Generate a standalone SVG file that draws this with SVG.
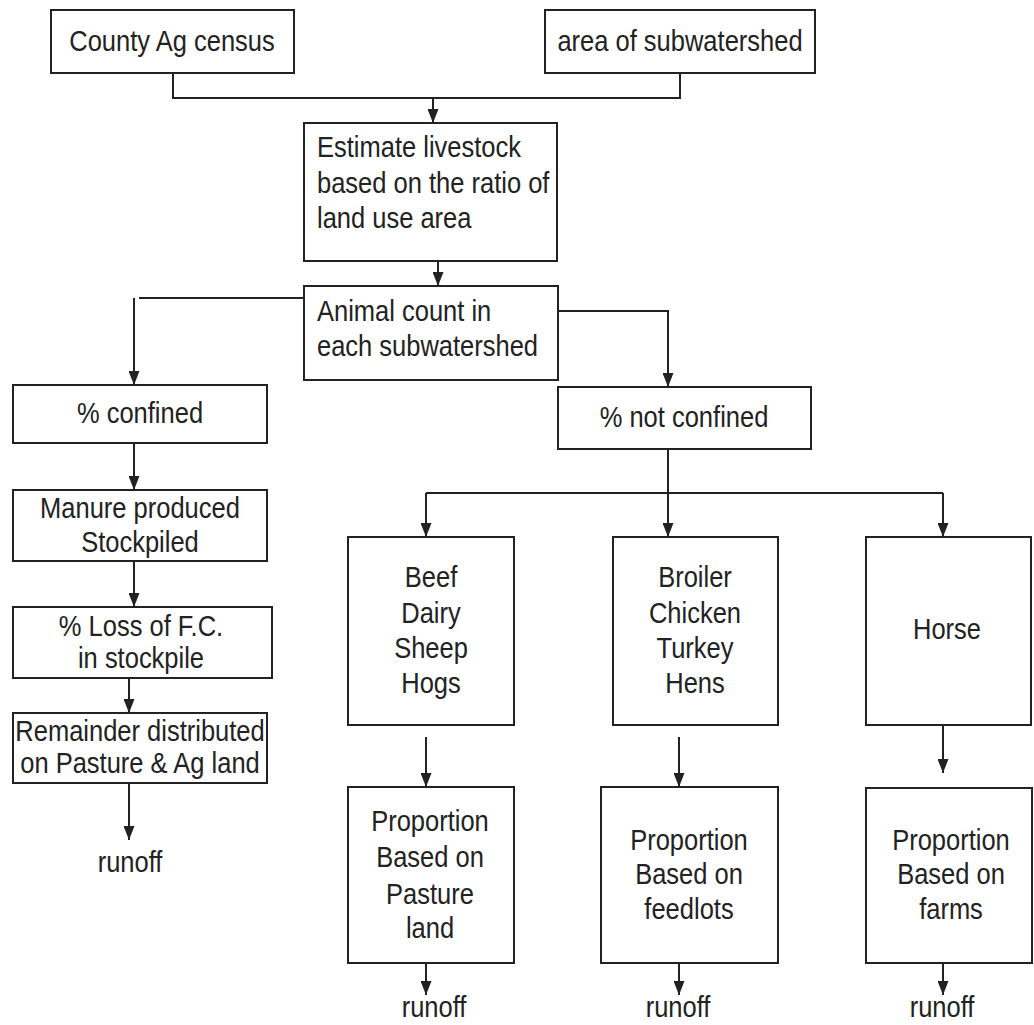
<svg xmlns="http://www.w3.org/2000/svg" width="1034" height="1025" viewBox="0 0 1034 1025">
<style>
.box{fill:#fff;stroke:#222;stroke-width:2}
.ln{fill:none;stroke:#222;stroke-width:2}
.ar{fill:none;stroke:#222;stroke-width:2;marker-end:url(#ah)}
.t{font-family:"Liberation Sans",Arial,sans-serif;font-size:30px;fill:#222;text-anchor:middle}
.s{text-anchor:start}
</style>
<defs>
<marker id="ah" viewBox="0 0 14 11" refX="14" refY="5.5" markerWidth="14" markerHeight="11" markerUnits="userSpaceOnUse" orient="auto">
<path d="M0,0 L14,5.5 L0,11 z" fill="#222"/>
</marker>
</defs>
<rect width="1034" height="1025" fill="#fff"/>
<g id="connectors">
<path class="ln" d="M173,73 V98 H680 V73"/>
<path class="ar" d="M433,98 V123"/>
<path class="ar" d="M438,261 V286"/>
<path class="ln" d="M304,298 H139"/>
<path class="ar" d="M134,298 V385"/>
<path class="ar" d="M558,311 H668 V387"/>
<path class="ar" d="M134,443 V490"/>
<path class="ar" d="M134,561 V607"/>
<path class="ar" d="M129,678 V713"/>
<path class="ar" d="M129,783 V840"/>
<path class="ar" d="M668,449 V537"/>
<path class="ln" d="M426,493 H943"/>
<path class="ar" d="M426,493 V537"/>
<path class="ar" d="M943,493 V537"/>
<path class="ar" d="M426,737 V787"/>
<path class="ar" d="M679,737 V787"/>
<path class="ar" d="M943,725 V773"/>
<path class="ar" d="M426,963 V995"/>
<path class="ar" d="M679,963 V995"/>
<path class="ar" d="M943,963 V995"/>
</g>
<g id="county">
<rect class="box" x="51" y="10" width="243" height="63"/>
<text class="t" transform="translate(172,51) scale(0.85,1)">County Ag census</text>
</g>
<g id="area">
<rect class="box" x="545" y="10" width="270" height="63"/>
<text class="t" transform="translate(680,51) scale(0.85,1)">area of subwatershed</text>
</g>
<g id="estimate">
<rect class="box" x="304" y="123" width="253" height="138"/>
<text class="t s" transform="translate(317,157) scale(0.85,1)"><tspan x="0" y="0">Estimate livestock</tspan><tspan x="0" y="36">based on the ratio of</tspan><tspan x="0" y="71">land use area</tspan></text>
</g>
<g id="animal">
<rect class="box" x="304" y="286" width="254" height="94"/>
<text class="t s" transform="translate(317,321) scale(0.85,1)"><tspan x="0" y="0">Animal count in</tspan><tspan x="0" y="35">each subwatershed</tspan></text>
</g>
<g id="confined">
<rect class="box" x="13" y="385" width="254" height="58"/>
<text class="t" transform="translate(140,423) scale(0.85,1)">% confined</text>
</g>
<g id="manure">
<rect class="box" x="13" y="490" width="254" height="71"/>
<text class="t" transform="translate(140,518) scale(0.85,1)"><tspan x="0" y="0">Manure produced</tspan><tspan x="0" y="34">Stockpiled</tspan></text>
</g>
<g id="loss">
<rect class="box" x="13" y="607" width="259" height="71"/>
<text class="t" transform="translate(141,636) scale(0.85,1)"><tspan x="0" y="0">% Loss of F.C.</tspan><tspan x="0" y="32">in stockpile</tspan></text>
</g>
<g id="remainder">
<rect class="box" x="13" y="713" width="254" height="70"/>
<text class="t" transform="translate(140,741) scale(0.85,1)"><tspan x="0" y="0">Remainder distributed</tspan><tspan x="0" y="32">on Pasture &amp; Ag land</tspan></text>
</g>
<g id="runoff1">
<text class="t" transform="translate(130,872) scale(0.85,1)">runoff</text>
</g>
<g id="notconfined">
<rect class="box" x="558" y="387" width="253" height="62"/>
<text class="t" transform="translate(684,427) scale(0.85,1)">% not confined</text>
</g>
<g id="beef">
<rect class="box" x="348" y="537" width="166" height="188"/>
<text class="t" transform="translate(431,587) scale(0.85,1)"><tspan x="0" y="0">Beef</tspan><tspan x="0" y="36">Dairy</tspan><tspan x="0" y="71">Sheep</tspan><tspan x="0" y="106">Hogs</tspan></text>
</g>
<g id="broiler">
<rect class="box" x="613" y="537" width="165" height="188"/>
<text class="t" transform="translate(695,587) scale(0.85,1)"><tspan x="0" y="0">Broiler</tspan><tspan x="0" y="36">Chicken</tspan><tspan x="0" y="71">Turkey</tspan><tspan x="0" y="106">Hens</tspan></text>
</g>
<g id="horse">
<rect class="box" x="866" y="537" width="165" height="188"/>
<text class="t" transform="translate(947,639) scale(0.85,1)">Horse</text>
</g>
<g id="prop_pasture">
<rect class="box" x="348" y="787" width="166" height="176"/>
<text class="t" transform="translate(430,831) scale(0.85,1)"><tspan x="0" y="0">Proportion</tspan><tspan x="0" y="36">Based on</tspan><tspan x="0" y="73">Pasture</tspan><tspan x="0" y="107">land</tspan></text>
</g>
<g id="prop_feedlots">
<rect class="box" x="601" y="787" width="177" height="176"/>
<text class="t" transform="translate(689,850) scale(0.85,1)"><tspan x="0" y="0">Proportion</tspan><tspan x="0" y="34">Based on</tspan><tspan x="0" y="69">feedlots</tspan></text>
</g>
<g id="prop_farms">
<rect class="box" x="866" y="788" width="166" height="175"/>
<text class="t" transform="translate(951,850) scale(0.85,1)"><tspan x="0" y="0">Proportion</tspan><tspan x="0" y="34">Based on</tspan><tspan x="0" y="69">farms</tspan></text>
</g>
<g id="runoff2">
<text class="t" transform="translate(434,1017) scale(0.85,1)">runoff</text>
</g>
<g id="runoff3">
<text class="t" transform="translate(678,1017) scale(0.85,1)">runoff</text>
</g>
<g id="runoff4">
<text class="t" transform="translate(942,1017) scale(0.85,1)">runoff</text>
</g>
</svg>
